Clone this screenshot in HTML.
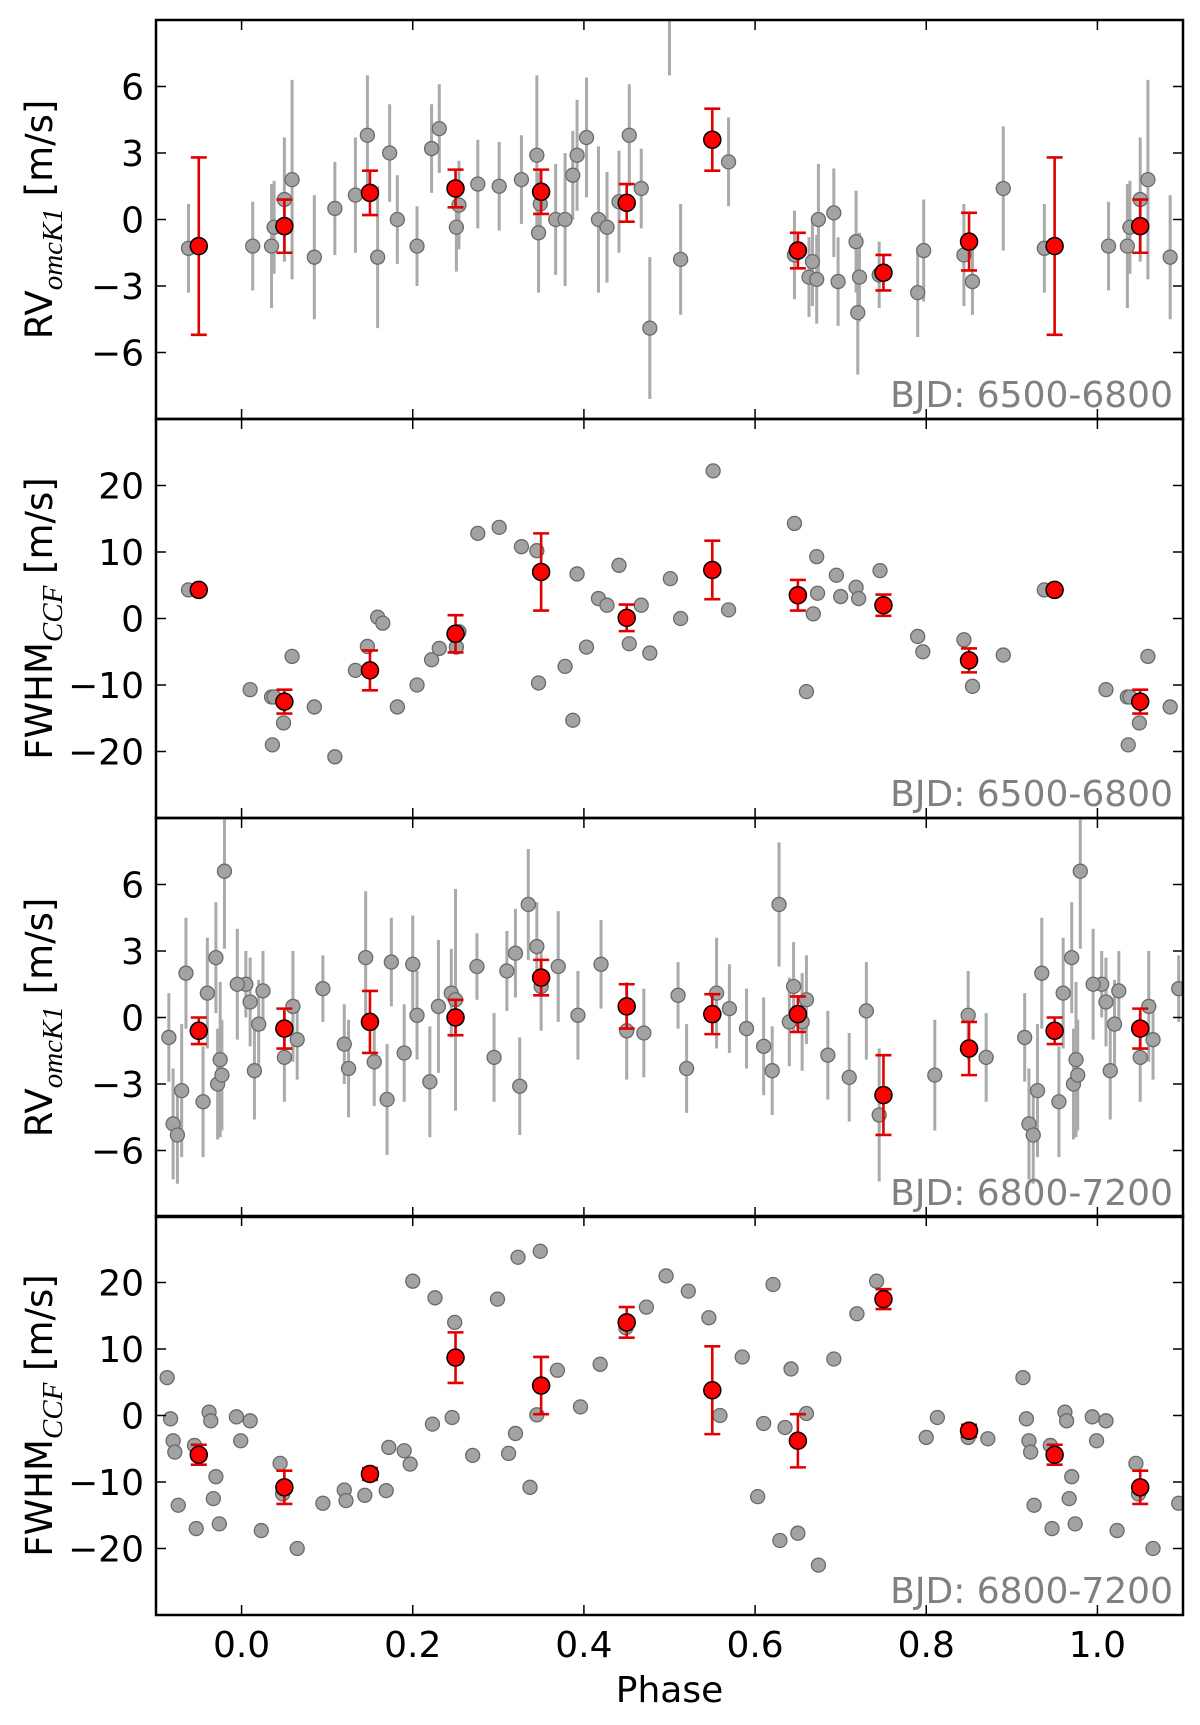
<!DOCTYPE html>
<html><head><meta charset="utf-8">
<style>
html,body{margin:0;padding:0;background:#fff;}
svg{display:block;font-family:"DejaVu Sans","Liberation Sans",sans-serif;}
</style></head>
<body>
<svg id="chart" width="1200" height="1725" viewBox="0 0 1200 1725" xmlns="http://www.w3.org/2000/svg">
<defs></defs>
</svg>
<script>
// ---------- data ----------
const xTicks = [0.0, 0.2, 0.4, 0.6, 0.8, 1.0];
const xTickLabels = ["0.0","0.2","0.4","0.6","0.8","1.0"];
const rvTicks = [-6,-3,0,3,6];
const rvTickLabels = ["\u22126","\u22123","0","3","6"];
const fwTicks = [-20,-10,0,10,20];
const fwTickLabels = ["\u221220","\u221210","0","10","20"];
const binPhases = [0.05,0.15,0.25,0.35,0.45,0.55,0.65,0.75,0.85,0.95];

// Panel 1: RV 6500-6800
const p1Phase = [.013,.035,.038,.05,.059,.085,.109,.133,.147,.159,.173,.182,.205,.222,.231,.251,.254,.276,.301,.327,.345,.347,.349,.367,.378,.387,.392,.403,.417,.427,.441,.453,.467,.477,.500,.513,.569,.646,.663,.667,.672,.674,.692,.697,.718,.72,.722,.745,.79,.797,.844,.854,.89,.938];
const p1Value = [-1.2,-1.2,-0.35,0.9,1.8,-1.7,0.5,1.1,3.8,-1.7,3.0,0,-1.2,3.2,4.1,-0.35,0.65,1.6,1.5,1.8,2.9,-0.6,0.7,0,0,2.0,2.9,3.7,0,-0.35,0.8,3.8,1.4,-4.9,9.5,-1.8,2.6,-1.6,-2.6,-1.9,-2.7,0,0.3,-2.8,-1.0,-4.2,-2.6,-2.5,-3.3,-1.4,-1.6,-2.8,1.4,-1.3];
const p1Err = [2.0,2.8,2.1,2.8,4.5,2.8,2.1,2.6,2.7,3.2,2.2,2.0,1.8,2.0,2.0,2.0,2.0,2.0,2.0,2.0,3.6,2.7,1.5,2.5,3.0,2.0,2.5,2.7,3.3,2.5,2.3,2.3,1.8,3.2,3.0,2.5,2.0,2.0,1.8,2.0,2.0,2.5,2.0,2.0,2.3,2.8,2.0,1.5,2.0,2.3,2.3,1.5,2.8,2.0];
const p1Bin = [-0.3,1.2,1.4,1.25,0.75,3.6,-1.4,-2.4,-1.0,-1.2];
const p1BinErr = [1.2,1.0,0.85,1.0,0.85,1.4,0.8,0.8,1.3,4.0];

// Panel 2: FWHM 6500-6800
const p2Phase = [.01,.035,.036,.038,.049,.059,.085,.109,.133,.147,.159,.165,.182,.205,.222,.231,.251,.254,.276,.301,.327,.345,.347,.378,.387,.392,.403,.417,.427,.441,.453,.467,.477,.501,.513,.551,.569,.646,.66,.668,.672,.673,.695,.7,.718,.721,.746,.79,.796,.844,.854,.89,.938];
const p2Value = [-10.7,-11.8,-19,-11.8,-15.7,-5.7,-13.3,-20.8,-7.8,-4.2,0.2,-0.7,-13.3,-10,-6.2,-4.5,-4.3,-2,12.8,13.7,10.8,10.2,-9.7,-7.2,-15.3,6.7,-4.3,3,2,8,-3.8,2,-5.2,6,0,22.2,1.3,14.3,-11,0.7,9.3,3.8,6.5,3.3,4.7,3,7.2,-2.7,-5,-3.2,-10.2,-5.5,4.3];
const p2Bin = [-12.5,-7.8,-2.3,7,0.1,7.3,3.5,2,-6.3,4.3];
const p2BinErr = [1.8,3,2.8,5.8,2,4.4,2.3,1.6,1.8,0.4];

// Panel 3: RV 6800-7200
const p3Phase = [.005,.01,.015,.02,.025,.05,.06,.065,.095,.12,.125,.145,.155,.17,.175,.19,.2,.205,.22,.23,.245,.25,.275,.295,.31,.32,.325,.335,.345,.35,.37,.393,.42,.45,.47,.51,.52,.555,.57,.59,.61,.62,.628,.64,.645,.655,.66,.685,.71,.73,.745,.81,.849,.87,.915,.92,.925,.93,.935,.955,.96,.97,.972,.975,.977,.98,.995];
const p3Value = [1.5,0.7,-2.4,-0.3,1.2,-1.8,0.5,-1.0,1.3,-1.2,-2.3,2.7,-2.0,-3.7,2.5,-1.6,2.4,0.1,-2.9,0.5,1.1,0.8,2.3,-1.8,2.1,2.9,-3.1,5.1,3.2,1.4,2.3,0.1,2.4,-0.6,-0.7,1.0,-2.3,1.1,0.4,-0.5,-1.3,-2.4,5.1,-0.2,1.4,-0.2,0.8,-1.7,-2.7,0.3,-4.4,-2.6,0.1,-1.8,-0.9,-4.8,-5.3,-3.3,2.0,-3.8,1.1,2.7,-3.0,-1.9,-2.6,6.6,1.5];
const p3Err = [1.5,2.0,2.2,2.0,1.8,2.0,2.5,1.8,1.5,1.8,2.2,3.0,2.0,2.5,2.0,2.2,2.2,2.0,2.5,3.0,2.0,5.0,1.5,2.0,1.8,2.0,2.2,2.5,2.0,2.0,2.5,2.0,2.0,2.2,2.0,1.5,2.0,2.5,2.0,1.8,2.2,2.0,2.8,2.0,2.0,2.2,2.0,2.0,2.0,2.2,3.0,2.5,2.0,2.0,2.0,2.5,2.2,3.0,2.5,2.5,2.5,2.5,2.5,3.5,2.5,3.5,2.5];
const p3Bin = [-0.5,-0.2,0,1.8,0.5,0.15,0.15,-3.5,-1.4,-0.6];
const p3BinErr = [0.9,1.4,0.8,0.8,1.0,0.9,0.8,1.8,1.2,0.6];

// Panel 4: FWHM 6800-7200
const p4Phase = [.01,.023,.045,.048,.065,.095,.12,.122,.144,.169,.172,.19,.197,.2,.223,.226,.246,.249,.27,.299,.312,.32,.323,.337,.345,.349,.369,.396,.419,.449,.473,.496,.522,.546,.559,.585,.603,.61,.621,.629,.635,.642,.65,.66,.674,.692,.719,.742,.8,.813,.849,.872,.913,.917,.92,.922,.926,.945,.947,.962,.964,.967,.97,.974,.994,.999];
const p4Value = [-0.8,-17.3,-7.2,-11.8,-20,-13.2,-11.2,-12.8,-12,-11.3,-4.8,-5.3,-7.3,20.2,-1.3,17.7,-0.3,14,-6,17.5,-5.7,-2.7,23.8,-10.8,0.1,24.7,6.8,1.3,7.7,13.2,16.3,21,18.7,14.7,0,8.8,-12.2,-1.2,19.7,-18.8,-1.8,7,-17.7,0.3,-22.5,8.5,15.3,20.2,-3.3,-0.3,-3.3,-3.5,5.7,-0.5,-3.8,-5.5,-13.5,-4.5,-17,0.5,-0.8,-12.5,-9.2,-16.3,-0.2,-3.8];
const p4Bin = [-10.8,-8.8,8.7,4.5,14,3.8,-3.8,17.5,-2.3,-5.9];
const p4BinErr = [2.5,0.9,3.8,4.3,2.3,6.6,4,1.5,0.9,1.5];

// ---------- layout ----------
const NS = "http://www.w3.org/2000/svg";
const svg = document.getElementById('chart');
const defs = svg.querySelector('defs');
const L = 156, R = 1183;
const tops = [20, 419, 818, 1216];
const H = 399;
function xS(p){ return L + (p + 0.1) / 1.2 * (R - L); }
function mk(tag, attrs, parent){
  const e = document.createElementNS(NS, tag);
  for (const k in attrs) e.setAttribute(k, attrs[k]);
  (parent || svg).appendChild(e);
  return e;
}
function wrapList(ph){
  const out = [ph];
  if (ph < 0.1) out.push(ph + 1);
  if (ph > 0.9) out.push(ph - 1);
  return out;
}
const panels = [
  {ph:p1Phase, v:p1Value, e:p1Err, bin:p1Bin, be:p1BinErr, lim:9, ticks:rvTicks, labs:rvTickLabels, kind:'rv', bjd:'BJD: 6500-6800'},
  {ph:p2Phase, v:p2Value, e:null, bin:p2Bin, be:p2BinErr, lim:30, ticks:fwTicks, labs:fwTickLabels, kind:'fw', bjd:'BJD: 6500-6800'},
  {ph:p3Phase, v:p3Value, e:p3Err, bin:p3Bin, be:p3BinErr, lim:9, ticks:rvTicks, labs:rvTickLabels, kind:'rv', bjd:'BJD: 6800-7200'},
  {ph:p4Phase, v:p4Value, e:null, bin:p4Bin, be:p4BinErr, lim:30, ticks:fwTicks, labs:fwTickLabels, kind:'fw', bjd:'BJD: 6800-7200'}
];
panels.forEach((P, i) => {
  const top = tops[i];
  const yS = v => top + H/2 - v / P.lim * (H/2);
  const cp = mk('clipPath', {id:'clip'+i}, defs);
  mk('rect', {x:L, y:top, width:R-L, height:H}, cp);
  const g = mk('g', {'clip-path':'url(#clip'+i+')'});
  
  
  if (P.e){
    P.ph.forEach((ph, j) => {
      wrapList(ph).forEach(pp => {
        const l = mk('line', {x1:xS(pp), x2:xS(pp), y1:yS(P.v[j]-P.e[j]), y2:yS(P.v[j]+P.e[j]), stroke:'#aaaaaa', 'stroke-width':3}, g);
        
        
      });
    });
  }
  P.ph.forEach((ph, j) => {
    wrapList(ph).forEach(pp => {
      const c = mk('circle', {cx:xS(pp), cy:yS(P.v[j]), r:7, fill:'#a3a3a3', stroke:'#6a6a6a', 'stroke-width':1.3}, g);
      
      
    });
  });
  binPhases.forEach((ph, j) => {
    wrapList(ph).forEach(pp => {
      const x = xS(pp), y1 = yS(P.bin[j]-P.be[j]), y2 = yS(P.bin[j]+P.be[j]);
      const eb = mk('path', {d:`M${x},${y1}V${y2}M${x-8},${y1}H${x+8}M${x-8},${y2}H${x+8}`, stroke:'#e00000', 'stroke-width':2.6, fill:'none'}, g);
      
      
      const c = mk('circle', {cx:x, cy:yS(P.bin[j]), r:8.5, fill:'#ff0000', stroke:'#000', 'stroke-width':1.5}, g);
      
      
    });
  });
  P.ticks.forEach((t, j) => {
    const y = yS(t);
    const tk = mk('path', {d:`M${L},${y}h10M${R},${y}h-10`, stroke:'#000', 'stroke-width':1.5});
    
    
    const tl = mk('text', {x:L-12, y:y+13, 'text-anchor':'end', 'font-size':36, fill:'#000'});
    tl.textContent = P.labs[j];
    
    
  });
  xTicks.forEach(t => {
    const x = xS(t);
    const tk = mk('path', {d:`M${x},${top}v10M${x},${top+H}v-10`, stroke:'#000', 'stroke-width':1.5});
    
    
  });
  const fr = mk('rect', {x:L, y:top, width:R-L, height:H, fill:'none', stroke:'#000', 'stroke-width':2.5});
  
  
  const bt = mk('text', {x:R-10, y:top+H-12, 'text-anchor':'end', 'font-size':36, fill:'#808080'});
  bt.textContent = P.bjd;
  
  
  const cy = top + H/2, cx = 52;
  const yt = mk('text', {x:cx, y:cy, transform:`rotate(-90 ${cx} ${cy})`, 'text-anchor':'middle', 'font-size':37, fill:'#000'});
  
  
  if (P.kind === 'rv'){
    yt.innerHTML = 'RV<tspan font-family="Liberation Serif, serif" font-style="italic" font-size="29" dy="10">omcK1</tspan><tspan dy="-10"> [m/s]</tspan>';
  } else {
    yt.innerHTML = 'FWHM<tspan font-family="Liberation Serif, serif" font-style="italic" font-size="29" dy="10">CCF</tspan><tspan dy="-10"> [m/s]</tspan>';
  }
});
xTicks.forEach((t, j) => {
  const tl = mk('text', {x:xS(t), y:1615+42, 'text-anchor':'middle', 'font-size':36, fill:'#000'});
  tl.textContent = xTickLabels[j];
  
  
});
const xt = mk('text', {x:(L+R)/2, y:1702, 'text-anchor':'middle', 'font-size':36, fill:'#000'});
xt.textContent = 'Phase';


</script>
</body></html>
